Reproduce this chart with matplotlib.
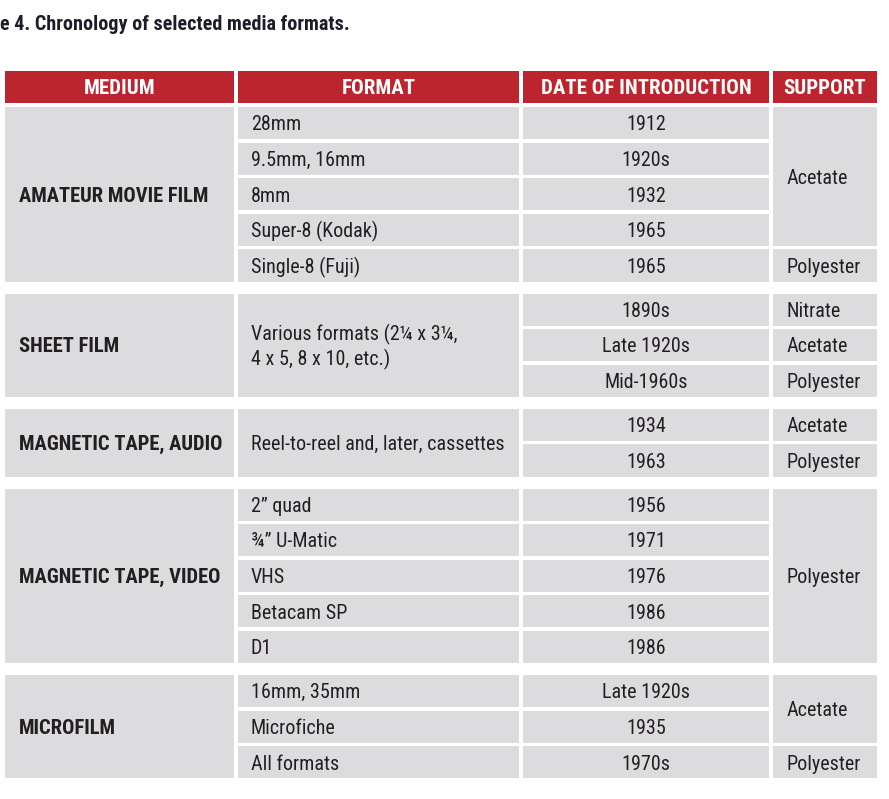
import matplotlib
matplotlib.use('Agg')
from matplotlib import pyplot as plt
from matplotlib.patches import Rectangle

plt.rcParams['font.family'] = ['Roboto Condensed', 'DejaVu Sans']

title = 'e 4. Chronology of selected media formats.'
headers = ['MEDIUM', 'FORMAT', 'DATE OF INTRODUCTION', 'SUPPORT']

mediums = ['AMATEUR MOVIE FILM', 'SHEET FILM', 'MAGNETIC TAPE, AUDIO',
           'MAGNETIC TAPE, VIDEO', 'MICROFILM']

# (text, number of rows spanned)
formats = [
    [('28mm', 1), ('9.5mm, 16mm', 1), ('8mm', 1), ('Super-8 (Kodak)', 1), ('Single-8 (Fuji)', 1)],
    [('Various formats (2\u00bc x 3\u00bc,\n4 x 5, 8 x 10, etc.)', 3)],
    [('Reel-to-reel and, later, cassettes', 2)],
    [('2\u201d quad', 1), ('\u00be\u201d U-Matic', 1), ('VHS', 1), ('Betacam SP', 1), ('D1', 1)],
    [('16mm, 35mm', 1), ('Microfiche', 1), ('All formats', 1)],
]

dates = [
    ['1912', '1920s', '1932', '1965', '1965'],
    ['1890s', 'Late 1920s', 'Mid-1960s'],
    ['1934', '1963'],
    ['1956', '1971', '1976', '1986', '1986'],
    ['Late 1920s', '1935', '1970s'],
]

supports = [
    [('Acetate', 4), ('Polyester', 1)],
    [('Nitrate', 1), ('Acetate', 1), ('Polyester', 1)],
    [('Acetate', 1), ('Polyester', 1)],
    [('Polyester', 5)],
    [('Acetate', 2), ('Polyester', 1)],
]

RED = '#bc252d'
GREY = '#dcdcde'
INK = '#231f20'

W, H = 889, 799
fig = plt.figure(figsize=(W / 100, H / 100), dpi=100)
ax = fig.add_axes([0, 0, 1, 1])
ax.set_xlim(0, W)
ax.set_ylim(H, 0)
ax.axis('off')

cols = [(5, 234), (238, 519), (523, 769), (773, 877)]
pitch = 35.6
gap = 3.5
group_gap = 12
dy = 1.8  # text sits a little below the cell centre

ax.text(0, 25, title, fontsize=14.5, fontweight='bold', color='#1c1c2a',
        ha='left', va='center')

# header
for (x0, x1), h in zip(cols, headers):
    ax.add_patch(Rectangle((x0, 71), x1 - x0, 32, color=RED, lw=0))
    ax.text((x0 + x1) / 2, 88, h, fontsize=15, fontweight='bold',
            color='white', ha='center', va='center')


def span_cells(ax, col, top, items, text_x, ha):
    x0, x1 = cols[col]
    r = 0
    for text, n in items:
        y0 = top + r * pitch
        h = n * pitch - gap
        ax.add_patch(Rectangle((x0, y0), x1 - x0, h, color=GREY, lw=0))
        ax.text(text_x, y0 + h / 2 + dy, text, fontsize=14.5, color=INK,
                ha=ha, va='center', linespacing=1.25)
        r += n


top = 107
for g, med in enumerate(mediums):
    n = len(dates[g])
    h = n * pitch - gap
    x0, x1 = cols[0]
    ax.add_patch(Rectangle((x0, top), x1 - x0, h, color=GREY, lw=0))
    ax.text(19, top + h / 2 + dy, med, fontsize=14.8, fontweight='bold', color=INK,
            ha='left', va='center')
    span_cells(ax, 1, top, formats[g], 251, 'left')
    span_cells(ax, 2, top, [(d, 1) for d in dates[g]], 646, 'center')
    span_cells(ax, 3, top, supports[g], 787, 'left')
    top += h + group_gap

fig.savefig('out.png', dpi=100)
